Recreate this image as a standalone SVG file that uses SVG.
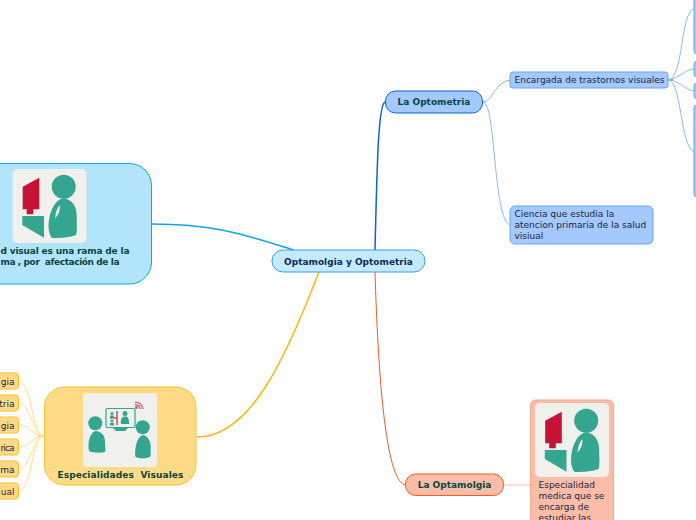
<svg xmlns="http://www.w3.org/2000/svg" width="696" height="520" viewBox="0 0 696 520">
<style>
text{font-family:"DejaVu Sans","Liberation Sans",sans-serif;font-size:9px;white-space:pre}
.b{font-weight:bold;fill:#07453f}
.t{fill:#1b2440}
.blue{fill:#a3c9ff;stroke:#6ea5f2}
.or{fill:#ffdb87;stroke:#ffbe2e}
.bg{fill:#f0f1ed}
.g{fill:#34a58e}
.r{fill:#c61234}
</style>
<defs>
<g id="person">
<rect class="bg" x="0" y="0" width="74" height="74" rx="5"/>
<path class="r" d="M10.200 17.700L26.800 8.700V40.300H20.800V45.300H14.200V40.300H10.200Z"/>
<path class="g" d="M9.800 47H31.500V68.700L9.800 56Z"/>
<circle class="g" cx="51.200" cy="17.700" r="12"/>
<path class="g" d="M50.800 29.300C59 30 64.200 37 64.200 46C64.200 55 65 62 63.500 66C55 69 45 69.500 39.200 68.700C36 64 35.500 57 36.500 51C38 40 44 30 50.800 29.300Z"/>
<path class="bg" d="M47.500 36C47.500 42 46 46 42.500 49.300C43 43.500 44.500 39 47.500 36Z"/>
</g>
</defs>
<g id="connectors" fill="none">
<path d="M375 250C377 170 378 105 385 102" stroke="#0f62d6" stroke-width="1.500"/>
<path d="M375 272C378 370 385 480 405 485" stroke="#f25a22" stroke-width="1"/>
<path d="M294 250C245 235 215 224 152 224" stroke="#0ba5e6" stroke-width="1.500"/>
<path d="M319 272C285 360 250 437 197 437" stroke="#ffb60a" stroke-width="1.500"/>
<path d="M483 102C492 102 495 82 510 80" stroke="#8eb8f5" stroke-width="1"/>
<path d="M483 102C496 102 493 220 510 225" stroke="#8eb8f5" stroke-width="1"/>
<path d="M668 80H673" stroke="#4d8ef0" stroke-width="1.500"/>
<path d="M668 80C684 78 680 12 694 9" stroke="#8eb8f5" stroke-width="1"/>
<path d="M668 80C680 78 684 70 694 69" stroke="#8eb8f5" stroke-width="1"/>
<path d="M668 80C680 80 684 90 694 91" stroke="#8eb8f5" stroke-width="1"/>
<path d="M668 80C682 80 680 148 694 151" stroke="#8eb8f5" stroke-width="1"/>
<path d="M504 485H530" stroke="#fbbda8" stroke-width="1"/>
<path d="M38 436H44" stroke="#ffbe2e" stroke-width="1.200"/>
<path d="M44 436C32 436 32 383 19 381" stroke="#ffdf90" stroke-width="1"/>
<path d="M44 436C32 436 32 405 19 403" stroke="#ffdf90" stroke-width="1"/>
<path d="M44 436C32 436 32 426 19 425" stroke="#ffdf90" stroke-width="1"/>
<path d="M44 436C32 436 32 447 19 447" stroke="#ffdf90" stroke-width="1"/>
<path d="M44 436C32 436 32 467 19 469" stroke="#ffdf90" stroke-width="1"/>
<path d="M44 436C32 436 32 489 19 491" stroke="#ffdf90" stroke-width="1"/>
</g>
<g id="central">
<rect x="272" y="250" width="153" height="22" rx="11" fill="#c4eaff" stroke="#3d9ee0"/>
<text x="348.500" y="264.500" text-anchor="middle" style="font-weight:bold;fill:#102a55">Optamolgia y Optometria</text>
</g>
<g id="optometria">
<rect x="385.500" y="91" width="97" height="22" rx="10" fill="#a3c9ff" stroke="#0f62d6"/>
<text class="b" x="434" y="105" text-anchor="middle">La Optometria</text>
</g>
<g id="trastornos">
<rect class="blue" x="510" y="72" width="158" height="16" rx="3"/>
<text class="t" x="514.500" y="83">Encargada de trastornos visuales</text>
</g>
<g id="ciencia">
<rect class="blue" x="510" y="206" width="143" height="38" rx="5"/>
<text class="t" x="514.500" y="216.500">Ciencia que estudia la</text>
<text class="t" x="514.500" y="227.500">atencion primaria de la salud</text>
<text class="t" x="514.500" y="238.500">visiual</text>
</g>
<g id="r1"><rect class="blue" x="694" y="-10" width="20" height="64" rx="3"/></g>
<g id="r2"><rect class="blue" x="694" y="61" width="20" height="16" rx="3"/></g>
<g id="r3"><rect class="blue" x="694" y="83" width="20" height="16" rx="3"/></g>
<g id="r4"><rect class="blue" x="694" y="105" width="20" height="92" rx="3"/></g>
<g id="vision">
<rect x="-60" y="163.500" width="211.500" height="120.500" rx="22" fill="#b2e5fc" stroke="#0ba5e6"/>
<use href="#person" x="12.500" y="169"/>
<text class="b" x="0.500" y="254" textLength="129" lengthAdjust="spacing">d visual es una rama de la</text>
<text class="b" x="0.500" y="265" textLength="119" lengthAdjust="spacing">ma , por  afectación de la</text>
</g>
<g id="especialidades">
<rect class="or" x="44.500" y="387" width="151.500" height="98" rx="20"/>
<rect class="bg" x="83" y="393" width="74" height="74" rx="4"/>
<path d="M135 402.500A6.500 6.500 0 0 1 142.500 409M135 405A4 4 0 0 1 140 409" fill="none" stroke="#d9506e" stroke-width="1.300"/>
<circle cx="136.500" cy="407.500" r="1.500" fill="#d9506e"/>
<rect x="106" y="408.500" width="29" height="19" rx="1.500" fill="#f0f1ed" stroke="#34a58e" stroke-width="1.200"/>
<path class="g" d="M113 428H128L125 431H116Z"/>
<path d="M117 411V425M110 418H117" stroke="#c61234" stroke-width="1.100" fill="none"/>
<circle class="g" cx="112" cy="413.500" r="1.500"/><rect class="g" x="110" y="415.500" width="4" height="2.500"/>
<circle class="g" cx="112" cy="421" r="1.500"/><rect class="g" x="110" y="423" width="4" height="2.500"/>
<circle class="g" cx="125" cy="413.500" r="2.500"/><path class="g" d="M121 424C120 418 123 416.500 125 416.500C128 416.500 129 418 129 424Z"/>
<circle class="g" cx="95.300" cy="423.300" r="7"/>
<path class="g" d="M95 431C102 431 105 436 105 442C105 446 106 451 105 452C99 453.500 92 452.500 89 451C88 445 88 435 95 431Z"/>
<circle class="g" cx="142.700" cy="427.300" r="7"/>
<path class="g" d="M143 435C148 436 150.700 441 150.700 447C150.700 452 151 456 150 457C145 459 139 458.500 135.500 457C134.500 451 136 437 143 435Z"/>
<text class="b" x="120.500" y="478" text-anchor="middle" letter-spacing=".1">Especialidades  Visuales</text>
</g>
<g id="s1"><rect class="or" x="-40" y="373" width="58.500" height="16" rx="3"/><text class="t" x="14.500" y="385" text-anchor="end">gia</text></g>
<g id="s2"><rect class="or" x="-40" y="395" width="58.500" height="16" rx="3"/><text class="t" x="14.500" y="407" text-anchor="end">tria</text></g>
<g id="s3"><rect class="or" x="-40" y="417" width="58.500" height="16" rx="3"/><text class="t" x="14.500" y="429" text-anchor="end">gia</text></g>
<g id="s4"><rect class="or" x="-40" y="439" width="58.500" height="16" rx="3"/><text class="t" x="0.500" y="451" textLength="14">rica</text></g>
<g id="s5"><rect class="or" x="-40" y="461" width="58.500" height="16" rx="3"/><text class="t" x="14.500" y="473" text-anchor="end">ma</text></g>
<g id="s6"><rect class="or" x="-40" y="483" width="58.500" height="16" rx="3"/><text class="t" x="14.500" y="495" text-anchor="end">ual</text></g>
<g id="optamolgia">
<rect x="405.500" y="474" width="98" height="21.500" rx="10" fill="#fbbda8" stroke="#f25a22"/>
<text class="b" x="454.500" y="488" text-anchor="middle">La Optamolgia</text>
</g>
<g id="especialidad">
<rect x="530.500" y="400" width="83" height="140" rx="5" fill="#fbbda8" stroke="#f7a78c"/>
<use href="#person" x="535" y="403"/>
<text class="t" x="538.500" y="488">Especialidad</text>
<text class="t" x="538.500" y="499">medica que se</text>
<text class="t" x="538.500" y="510">encarga de</text>
<text class="t" x="538.500" y="521">estudiar las</text>
</g>
</svg>
